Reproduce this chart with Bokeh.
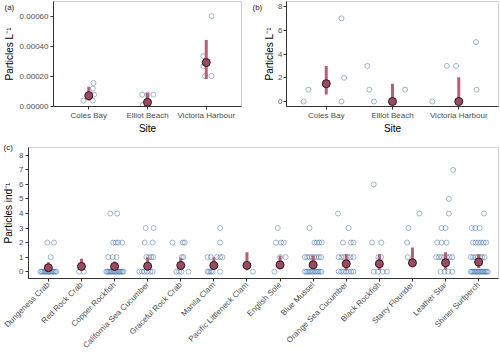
import math
from bokeh.plotting import figure
from bokeh.layouts import column, row
from bokeh.models import Range1d, FixedTicker, Label, ColumnDataSource, NumeralTickFormatter
from bokeh.embed import file_html
from bokeh.resources import INLINE

FONT = "Liberation Sans"
PT_COLOR = "#2c5f9e"
BAR_COLOR = "#b3596f"
MEAN_FILL = "#9b4a62"

sites = ["Coles Bay", "Elliot Beach", "Victoria Harbour"]

# (a) particles per litre (water)
a_site = [0, 0, 0, 0, 0, 1, 1, 1, 1, 2, 2, 2, 2, 2]
a_value = [0.000157, 0.000120, 0.000079, 0.000039, 0.000039,
           0.000079, 0.000079, 0.000079, 0.000010,
           0.000603, 0.000336, 0.000269, 0.000203, 0.000203]
a_jitter = [0.08, 0.07, 0.09, -0.09, 0.07,
            -0.09, 0.0, 0.10, -0.08,
            0.09, -0.05, -0.05, -0.02, 0.09]
a_mean = [0.000072, 0.000028, 0.000293]
a_lo = [0.000040, 0.000002, 0.000184]
a_hi = [0.000131, 0.000090, 0.000444]
a_ticks = [0.0, 0.0002, 0.0004, 0.0006]

# (b) particles per litre (sediment)
b_site = [0, 0, 0, 0, 0, 1, 1, 1, 1, 2, 2, 2, 2, 2]
b_value = [0, 1, 7, 2, 0, 3, 1, 0, 1, 0, 3, 3, 5, 1]
b_jitter = [-0.34, -0.27, 0.23, 0.27, 0.23,
            -0.38, -0.35, -0.28, 0.19,
            -0.40, -0.18, -0.04, 0.26, 0.27]
b_mean = [1.5, 0.0, 0.0]
b_lo = [0.6, 0.0, 0.0]
b_hi = [3.0, 1.5, 2.05]
b_ticks = [0, 2, 4, 6, 8]

# (c) particles per individual
species = ["Dungeness Crab", "Red Rock Crab", "Copper Rockfish", "California Sea Cucumber",
           "Graceful Rock Crab", "Manila Clam", "Pacific Littleneck Clam", "English Sole",
           "Blue Mussel", "Orange Sea Cucumber", "Black Rockfish", "Starry Flounder",
           "Leather Star", "Shiner Surfperch"]
c_mean = [0.27, 0.36, 0.36, 0.38, 0.43, 0.43, 0.43, 0.47, 0.47, 0.54, 0.54, 0.61, 0.61, 0.66]
c_lo = [0.08, 0.10, 0.10, 0.10, 0.12, 0.12, 0.09, 0.15, 0.18, 0.10, 0.12, 0.30, 0.15, 0.25]
c_hi = [0.65, 0.88, 0.70, 1.00, 0.95, 1.00, 1.33, 1.10, 1.10, 1.22, 1.20, 1.67, 1.33, 1.20]
c_ticks = [0, 1, 2, 3, 4, 5, 6, 7, 8]

c_values = [
    [0] * 13 + [1] + [2, 2],
    [0, 0],
    [0] * 14 + [1, 1, 1] + [2, 2, 2, 2] + [4, 4],
    [0] * 6 + [1, 1, 1, 1] + [2, 2] + [3, 3],
    [0] * 4 + [1, 1] + [2, 2, 2],
    [0] * 5 + [1] * 5 + [2] + [3],
    [0],
    [0] + [1, 1] + [2, 2, 2] + [3],
    [0] * 11 + [1] * 8 + [2] * 4 + [3],
    [0] * 7 + [1] * 6 + [2] * 3 + [3] + [4],
    [0] * 4 + [1, 1] + [2, 2] + [6],
    [1, 2, 3, 4],
    [0] * 4 + [1] * 7 + [2] * 3 + [3, 3] + [4] + [5] + [7],
    [0] * 14 + [1] * 7 + [2] * 6 + [3] * 3 + [4],
]
c_jitter = [
    [-0.24, -0.2, -0.16, -0.12, -0.08, -0.04, 0.0, 0.04, 0.08, 0.12, 0.16, 0.2, 0.24, 0.07, -0.03, 0.17],
    [-0.07, 0.07],
    [-0.25, -0.21, -0.17, -0.13, -0.09, -0.05, -0.01, 0.03, 0.07, 0.11, 0.15, 0.19, 0.23, 0.27,
     -0.19, -0.06, 0.06, -0.04, 0.04, 0.11, 0.23, -0.13, 0.08],
    [-0.25, -0.17, -0.1, -0.02, 0.08, 0.15, -0.04, 0.04, 0.11, 0.17, -0.09, 0.15, -0.06, 0.18],
    [-0.13, -0.05, 0.02, 0.23, 0.03, 0.08, -0.25, 0.06, 0.12],
    [-0.19, -0.14, -0.09, -0.04, 0.19, -0.19, -0.09, 0.09, 0.19, 0.26, 0.19, 0.19],
    [0.18],
    [-0.17, 0.0, 0.17, -0.12, 0.03, 0.11, -0.07],
    [-0.25, -0.2, -0.15, -0.1, -0.05, 0.0, 0.05, 0.1, 0.15, 0.2, 0.25,
     -0.25, -0.18, -0.11, -0.04, 0.03, 0.1, 0.17, 0.24, 0.04, 0.11, 0.18, 0.26, -0.11],
    [-0.23, -0.15, -0.08, 0.0, 0.07, 0.15, 0.22, -0.23, -0.15, -0.07, 0.05, 0.13, 0.22,
     -0.1, 0.14, 0.22, 0.07, -0.25],
    [-0.17, -0.04, 0.1, 0.23, -0.03, 0.05, -0.22, 0.06, -0.17],
    [-0.14, -0.16, -0.12, 0.21],
    [-0.15, -0.03, 0.08, 0.2, -0.28, -0.2, -0.12, -0.04, 0.04, 0.12, 0.2, -0.25, -0.12, 0.03,
     -0.12, 0.0, 0.1, 0.1, 0.23],
    [-0.24, -0.2, -0.16, -0.12, -0.08, -0.04, 0.0, 0.04, 0.08, 0.12, 0.16, 0.2, 0.24, 0.28,
     -0.24, -0.17, -0.1, -0.03, 0.04, 0.11, 0.18, -0.17, -0.09, -0.01, 0.07, 0.15, 0.23,
     -0.21, -0.1, 0.03, 0.16],
]


def style(p, xticks, xlabels, yticks, xlabel, ylabel):
    p.xgrid.visible = False
    p.ygrid.visible = False
    p.outline_line_color = "#cfcfcf"
    p.background_fill_color = "white"
    p.border_fill_color = "white"
    p.xaxis.ticker = FixedTicker(ticks=xticks)
    p.xaxis.major_label_overrides = {t: lab for t, lab in zip(xticks, xlabels)}
    p.yaxis.ticker = FixedTicker(ticks=yticks)
    for ax in (p.xaxis[0], p.yaxis[0]):
        ax.axis_line_color = "#333333"
        ax.major_tick_line_color = "#333333"
        ax.major_tick_out = 3
        ax.major_tick_in = 0
        ax.minor_tick_line_color = None
        ax.major_label_text_font = FONT
        ax.major_label_text_font_size = "8px"
        ax.major_label_text_color = "#4d4d4d"
        ax.major_label_standoff = 2
        ax.axis_label_text_font = FONT
        ax.axis_label_text_font_size = "10px"
        ax.axis_label_text_font_style = "normal"
        ax.axis_label_text_color = "black"
        ax.axis_label_standoff = 2
    p.xaxis.axis_label = xlabel
    p.yaxis.axis_label = ylabel


def draw(p, idx, vals, jit, mean, lo, hi, n):
    pts = ColumnDataSource(dict(x=[i + 1 + j for i, j in zip(idx, jit)], y=vals))
    p.scatter("x", "y", source=pts, size=5, fill_color=None, line_color=PT_COLOR,
              line_alpha=0.45, line_width=1)
    cat = [i + 1 for i in range(n)]
    bars = ColumnDataSource(dict(x=cat, lo=lo, hi=hi, m=mean))
    p.segment(x0="x", y0="lo", x1="x", y1="hi", source=bars, line_color=BAR_COLOR,
              line_width=3, line_alpha=0.95)
    p.scatter("x", "m", source=bars, size=8, fill_color=MEAN_FILL, line_color="#2a1a20",
              line_width=1)


def panel_label(p, text, x, y, side):
    # placed in a side panel (canvas units) so that it is not clipped to the plot frame
    p.add_layout(Label(x=x, y=y, x_units="canvas", y_units="canvas", text=text,
                       text_font=FONT, text_font_size="8px", text_color="#222222",
                       text_align="left", text_baseline="middle"), side)


ROW1_H = 136

# (a)
pa = figure(width=251, height=ROW1_H, output_backend="svg", toolbar_location=None,
            x_range=Range1d(0.4, 3.6), y_range=Range1d(0, 0.0007),
            min_border_left=53, min_border_right=9, min_border_top=1, min_border_bottom=28)
style(pa, [1, 2, 3], sites, a_ticks, "Site", "Particles L⁻¹")
pa.yaxis.formatter = NumeralTickFormatter(format="0.00000")
pa.xaxis.major_label_standoff = 1
pa.xaxis.axis_label_standoff = 0
draw(pa, a_site, a_value, a_jitter, a_mean, a_lo, a_hi, 3)
panel_label(pa, "(a)", 4, 7, "right")

# (b)
pb = figure(width=249, height=ROW1_H, output_backend="svg", toolbar_location=None,
            x_range=Range1d(0.4, 3.6), y_range=Range1d(-0.42, 8.42),
            min_border_left=31, min_border_right=2, min_border_top=1, min_border_bottom=28)
style(pb, [1, 2, 3], sites, b_ticks, "Site", "Particles L⁻¹")
pb.yaxis.major_label_standoff = 1
pb.yaxis.axis_label_standoff = 0
pb.xaxis.major_label_standoff = 1
pb.xaxis.axis_label_standoff = 0
draw(pb, b_site, b_value, b_jitter, b_mean, b_lo, b_hi, 3)
panel_label(pb, "(b)", 1, 7, "left")

# (c)
c_idx = [i for i, v in enumerate(c_values) for _ in v]
c_val = [x for v in c_values for x in v]
c_jit = [x for j in c_jitter for x in j]
pc = figure(width=500, height=356 - ROW1_H, output_backend="svg", toolbar_location=None,
            x_range=Range1d(0.4, len(species) + 0.6), y_range=Range1d(-0.47, 8.54),
            min_border_left=26, min_border_right=2, min_border_top=11, min_border_bottom=76)
style(pc, list(range(1, len(species) + 1)), species, c_ticks, "", "Particles ind⁻¹")
pc.xaxis.major_label_orientation = math.pi / 4
draw(pc, c_idx, c_val, c_jit, c_mean, c_lo, c_hi, len(species))
panel_label(pc, "(c)", 3, 11, "above")

layout = column(row(pa, pb), pc)
open("out.html", "w").write(file_html(layout, INLINE))
